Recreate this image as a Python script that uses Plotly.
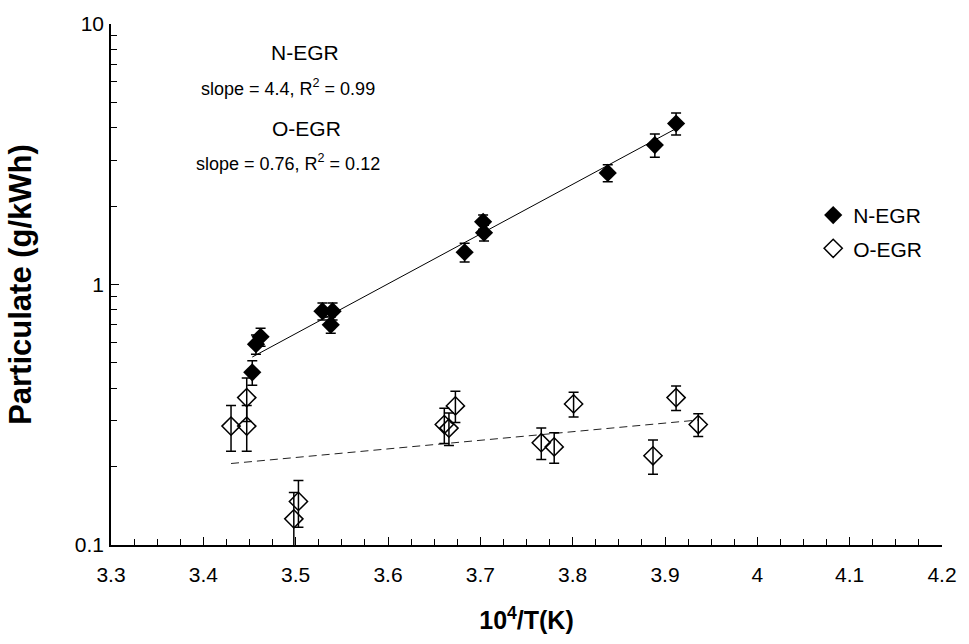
import numpy as np
import plotly.graph_objects as go

# N-EGR series: inverse temperature 10^4/T, particulate (g/kWh), error bar half-widths
negr_x = [3.453, 3.457, 3.462, 3.529, 3.540, 3.538, 3.683, 3.703, 3.704, 3.838, 3.889, 3.912]
negr_y = [0.46, 0.59, 0.63, 0.79, 0.79, 0.70, 1.33, 1.74, 1.58, 2.68, 3.43, 4.15]
negr_err = [0.05, 0.05, 0.05, 0.06, 0.06, 0.05, 0.11, 0.11, 0.11, 0.20, 0.35, 0.40]

# O-EGR series
oegr_x = [3.430, 3.447, 3.447, 3.498, 3.503, 3.661, 3.666, 3.673, 3.766, 3.780, 3.801, 3.887, 3.912, 3.936]
oegr_y = [0.286, 0.286, 0.368, 0.126, 0.147, 0.290, 0.281, 0.342, 0.247, 0.238, 0.348, 0.220, 0.368, 0.290]
oegr_err = [0.057, 0.057, 0.070, 0.033, 0.030, 0.045, 0.040, 0.047, 0.034, 0.032, 0.038, 0.033, 0.040, 0.029]

# exponential trend lines: y = y_ref * exp(slope * (x - x_ref))
negr_slope, negr_r2 = 4.4, 0.99
oegr_slope, oegr_r2 = 0.76, 0.12
negr_ref = (3.68, 1.43)
oegr_ref = (3.68, 0.2485)

# axis ticks
x_tickvals = [3.3, 3.4, 3.5, 3.6, 3.7, 3.8, 3.9, 4.0, 4.1, 4.2]
x_ticktext = ["3.3", "3.4", "3.5", "3.6", "3.7", "3.8", "3.9", "4", "4.1", "4.2"]

FONT = "Liberation Sans, Arial, sans-serif"


def trend(xs, slope, ref):
    xx = np.linspace(min(xs), max(xs), 60)
    return xx, ref[1] * np.exp(slope * (xx - ref[0]))


fig = go.Figure()

tx, ty = trend(negr_x, negr_slope, negr_ref)
fig.add_trace(go.Scatter(x=tx, y=ty, mode="lines", line=dict(color="black", width=1),
                         showlegend=False, hoverinfo="skip"))
tx, ty = trend(oegr_x, oegr_slope, oegr_ref)
fig.add_trace(go.Scatter(x=tx, y=ty, mode="lines",
                         line=dict(color="#222222", width=1, dash="8px,5px"),
                         showlegend=False, hoverinfo="skip"))

fig.add_trace(go.Scatter(
    x=negr_x, y=negr_y, mode="markers", name="N-EGR",
    marker=dict(symbol="diamond", size=14, color="black", line=dict(width=0)),
    error_y=dict(type="data", array=negr_err, color="black", thickness=1.5, width=5),
    legendgroup="n",
))
fig.add_trace(go.Scatter(
    x=oegr_x, y=oegr_y, mode="markers", name="O-EGR",
    marker=dict(symbol="diamond-open", size=14, color="black", line=dict(width=1.5)),
    error_y=dict(type="data", array=oegr_err, color="black", thickness=1.5, width=5),
    legendgroup="o",
))

notes = [
    ("N-EGR", 306, 47, 21),
    (f"slope = {negr_slope}, R<sup>2</sup> = {negr_r2}", 289, 82, 18),
    ("O-EGR", 307, 124, 21),
    (f"slope = {oegr_slope}, R<sup>2</sup> = {oegr_r2}", 289, 158, 18),
]
for text, px, py, fs in notes:
    fig.add_annotation(text=text, xref="paper", yref="paper",
                       x=(px - 111) / 835, y=1 - (py - 18) / 527,
                       xanchor="center", yanchor="middle", showarrow=False,
                       font=dict(family=FONT, size=fs, color="black"))

fig.update_layout(
    width=969, height=644,
    margin=dict(l=111, r=23, t=18, b=99),
    paper_bgcolor="white", plot_bgcolor="white",
    font=dict(family=FONT, size=21, color="black"),
    showlegend=True,
    legend=dict(x=0.845, y=0.672, xanchor="left", yanchor="top",
                traceorder="grouped", tracegroupgap=3,
                font=dict(family=FONT, size=21, color="black"),
                bgcolor="rgba(0,0,0,0)"),
    xaxis=dict(
        range=[3.3, 4.2], tickmode="array", tickvals=x_tickvals, ticktext=x_ticktext,
        ticks="inside", ticklen=8, tickwidth=1, tickcolor="black",
        minor=dict(ticks="inside", ticklen=6, tickcolor="black", tick0=3.3, dtick=0.025, showgrid=False),
        showline=True, linecolor="black", linewidth=1.5, showgrid=False, zeroline=False,
        ticklabelstandoff=10,
        tickfont=dict(family=FONT, size=21),
        title=dict(text="<b>10<sup>4</sup>/T(K)</b>", font=dict(family=FONT, size=25), standoff=27),
    ),
    yaxis=dict(
        type="log", range=[-1, 1], dtick=1,
        ticks="inside", ticklen=8, tickwidth=1, tickcolor="black",
        minor=dict(ticks="inside", ticklen=6, tickcolor="black", dtick="D1", showgrid=False),
        showline=True, linecolor="black", linewidth=1.5, showgrid=False, zeroline=False,
        ticklabelstandoff=1,
        tickfont=dict(family=FONT, size=21),
        title=dict(text="<b>Particulate (g/kWh)</b>", font=dict(family=FONT, size=31), standoff=34),
    ),
)

fig.write_html("out.html")
